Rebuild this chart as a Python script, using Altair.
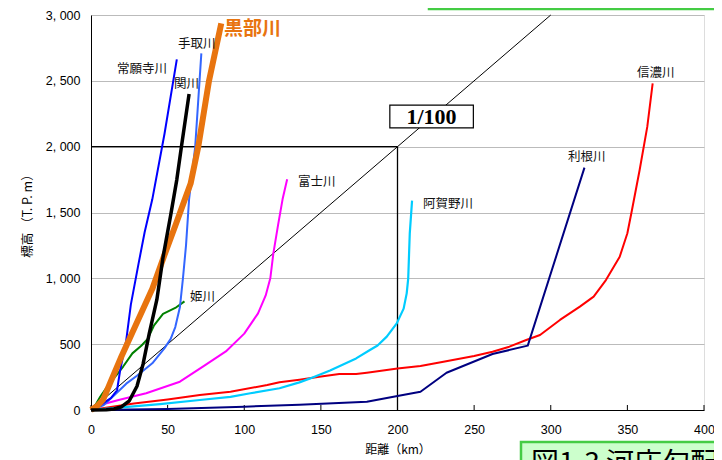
import altair as alt
import pandas as pd

# ---- data (distance km, elevation m) ----
joganji_x = [0, 7, 13, 17, 19, 23, 26, 31, 35, 40, 48, 56]
joganji_y = [0, 45, 90, 150, 300, 530, 800, 1110, 1350, 1600, 2100, 2663]

tedori_x = [0, 8, 15, 23, 30, 40, 48, 52, 55, 58, 60, 62, 64, 68, 72]
tedori_y = [0, 35, 110, 200, 260, 355, 470, 540, 630, 780, 1000, 1250, 1600, 2000, 2709]

seki_x = [0, 10, 15, 20, 25, 30, 34, 38, 43, 47, 52, 56, 59, 64]
seki_y = [0, 2, 8, 25, 70, 180, 350, 580, 840, 1160, 1480, 1750, 2000, 2400]

kurobe_x = [0, 4, 8, 13, 20, 29, 40, 48, 55, 60, 65, 70, 77, 85]
kurobe_y = [0, 30, 80, 220, 410, 640, 920, 1180, 1400, 1560, 1720, 2000, 2500, 2937]

hime_x = [0, 3, 6, 12, 17, 21, 27, 33, 37, 41, 47, 55, 61]
hime_y = [0, 40, 100, 200, 270, 330, 430, 490, 540, 640, 730, 775, 825]

fuji_x = [0, 6, 18, 36, 58, 73, 88, 100, 109, 114, 117, 119, 122, 125, 128]
fuji_y = [0, 38, 76, 127, 215, 330, 445, 580, 734, 870, 1000, 1190, 1400, 1600, 1752]

agano_x = [0, 20, 45, 71, 91, 104, 123, 136, 143, 156, 173, 182, 187, 193, 199.5, 204, 206, 207, 208, 209.5]
agano_y = [0, 20, 45, 76, 100, 127, 165, 210, 240, 300, 392, 456, 490, 557, 658, 770, 886, 1000, 1340, 1590]

shinano_x = [0, 14, 28, 50, 71, 91, 115, 123, 136, 149, 162, 173, 180, 200, 215, 230, 250, 262,
             273, 284, 293, 306, 319, 328, 336, 345, 350, 353, 358, 363, 366.5]
shinano_y = [0, 25, 50, 80, 114, 139, 190, 210, 230, 253, 273, 273, 283, 316, 334, 367, 410, 443,
             481, 532, 570, 684, 785, 861, 987, 1164, 1342, 1519, 1823, 2152, 2481]

tone_x = [0, 50, 100, 136, 180, 200, 215, 232, 262, 285, 322]
tone_y = [0, 8, 25, 40, 63, 106, 139, 283, 425, 489, 1841]

slope_x = [0, 300]
slope_y = [0, 3000]

x_ticks = [0, 50, 100, 150, 200, 250, 300, 350, 400]
y_ticks = [0, 500, 1000, 1500, 2000, 2500, 3000]

rivers = [
    ("信濃川", shinano_x, shinano_y, "#FF0000", 2),
    ("利根川", tone_x, tone_y, "#000080", 2),
    ("阿賀野川", agano_x, agano_y, "#00CCFF", 2.2),
    ("富士川", fuji_x, fuji_y, "#FF00FF", 2),
    ("姫川", hime_x, hime_y, "#008000", 2),
    ("手取川", tedori_x, tedori_y, "#3366FF", 2),
    ("常願寺川", joganji_x, joganji_y, "#0000FF", 2),
    ("黒部川", kurobe_x, kurobe_y, "#E8740F", 6),
    ("関川", seki_x, seki_y, "#000000", 3.5),
]

label_names = ["常願寺川", "手取川", "関川", "姫川", "富士川", "阿賀野川", "信濃川", "利根川"]
label_x = [17, 56.8, 54.2, 64.6, 135, 216.6, 356.3, 311.3]
label_y = [2590, 2780, 2476, 858, 1732, 1565, 2560, 1921]

FONT = "Noto Sans CJK JP"
TICKFONT = "Liberation Sans"
xs = alt.Scale(domain=[0, 400], nice=False, zero=True)
ys = alt.Scale(domain=[0, 3000], nice=False, zero=True)

layers = []

base = alt.Chart(pd.DataFrame({"x": slope_x, "y": slope_y})).mark_line(
    color="black", strokeWidth=1
).encode(
    x=alt.X("x:Q", scale=xs, axis=alt.Axis(
        title="距離（km）", values=x_ticks, grid=False, ticks=False, labelFlush=False,
        labelPadding=13, titlePadding=9, labelFontSize=12.5, titleFontSize=12,
        labelFont=TICKFONT, titleFont=FONT, titleFontWeight="normal",
        domainColor="black", labelColor="black", titleColor="black")),
    y=alt.Y("y:Q", scale=ys, axis=alt.Axis(
        title="標高 （T. P. m）", values=y_ticks, grid=True, gridColor="#BBBBBB",
        ticks=False, labelPadding=11, titlePadding=11, labelFlush=False,
        labelExpr="replace(format(datum.value, ','), ',', ', ')",
        labelFontSize=12.5, titleFontSize=12.5, labelFont=TICKFONT, titleFont=FONT,
        titleFontWeight="normal", domainColor="black", labelColor="black",
        titleColor="black")),
)
layers.append(base)

# inward x ticks
xt = alt.Chart(pd.DataFrame({"x": x_ticks})).mark_rule(color="black", strokeWidth=1).encode(
    x=alt.X("x:Q", scale=xs), y=alt.value(390), y2=alt.value(395))
layers.append(xt)

# reference lines at 2000 m / 200 km
ref = pd.DataFrame({"x": [0, 200], "x2": [200, 200], "y": [2000, 0], "y2": [2000, 2000]})
layers.append(alt.Chart(ref).mark_rule(color="black", strokeWidth=1.3).encode(
    x=alt.X("x:Q", scale=xs), x2="x2:Q", y=alt.Y("y:Q", scale=ys), y2="y2:Q"))

for name, rx, ry, col, w in rivers:
    df = pd.DataFrame({"x": rx, "y": ry, "i": list(range(len(rx)))})
    layers.append(alt.Chart(df).mark_line(color=col, strokeWidth=w, strokeJoin="round").encode(
        x=alt.X("x:Q", scale=xs), y=alt.Y("y:Q", scale=ys), order="i:Q"))

# 1/100 box
box = pd.DataFrame({"x": [195], "x2": [249.5], "y": [2142], "y2": [2316]})
layers.append(alt.Chart(box).mark_rect(fill="white", stroke="black", strokeWidth=1.2).encode(
    x=alt.X("x:Q", scale=xs), x2="x2:Q", y=alt.Y("y:Q", scale=ys), y2="y2:Q"))
layers.append(alt.Chart(pd.DataFrame({"x": [222.2], "y": [2229], "t": ["1/100"]})).mark_text(
    font="Liberation Sans Narrow", fontSize=22, fontWeight="bold", color="black"
).encode(x=alt.X("x:Q", scale=xs), y=alt.Y("y:Q", scale=ys), text="t:N"))

# river labels
lab = pd.DataFrame({"x": label_x, "y": label_y, "t": label_names})
layers.append(alt.Chart(lab).mark_text(
    font=FONT, fontSize=12.5, align="left", baseline="middle", color="#111111"
).encode(x=alt.X("x:Q", scale=xs), y=alt.Y("y:Q", scale=ys), text="t:N"))
layers.append(alt.Chart(pd.DataFrame({"x": [86.8], "y": [2894], "t": ["黒部川"]})).mark_text(
    font=FONT, fontSize=19, fontWeight="bold", align="left", baseline="middle", color="#E8740F"
).encode(x=alt.X("x:Q", scale=xs), y=alt.Y("y:Q", scale=ys), text="t:N"))

# cropped caption boxes (page artefacts)
cap = pd.DataFrame({"t": ["図1-3 河床勾配"]})
layers.append(alt.Chart(cap).mark_rect(fill="#CCFFCC", stroke="#44CC44", strokeWidth=2.5).encode(
    x=alt.value(430), x2=alt.value(700), y=alt.value(427), y2=alt.value(480)))
layers.append(alt.Chart(cap).mark_text(
    font=FONT, fontSize=28, align="left", baseline="top", color="black"
).encode(x=alt.value(440), y=alt.value(436), text="t:N"))
cap2 = pd.DataFrame({"t": ["図1-2 黒部川流域の崩壊"]})
layers.append(alt.Chart(cap2).mark_rect(fill="#CCFFCC", stroke="#44CC44", strokeWidth=2.5).encode(
    x=alt.value(338), x2=alt.value(700), y=alt.value(-60), y2=alt.value(-6)))

chart = alt.layer(*layers).properties(
    width=613, height=395,
    autosize=alt.AutoSizeParams(type="none"),
    padding={"left": 83, "top": 7, "right": 10, "bottom": 52},
).configure_view(stroke="#A0A0A0", strokeWidth=1.2).configure(background="white")

chart.save("out.html", embed_options={"renderer": "svg", "actions": False})
